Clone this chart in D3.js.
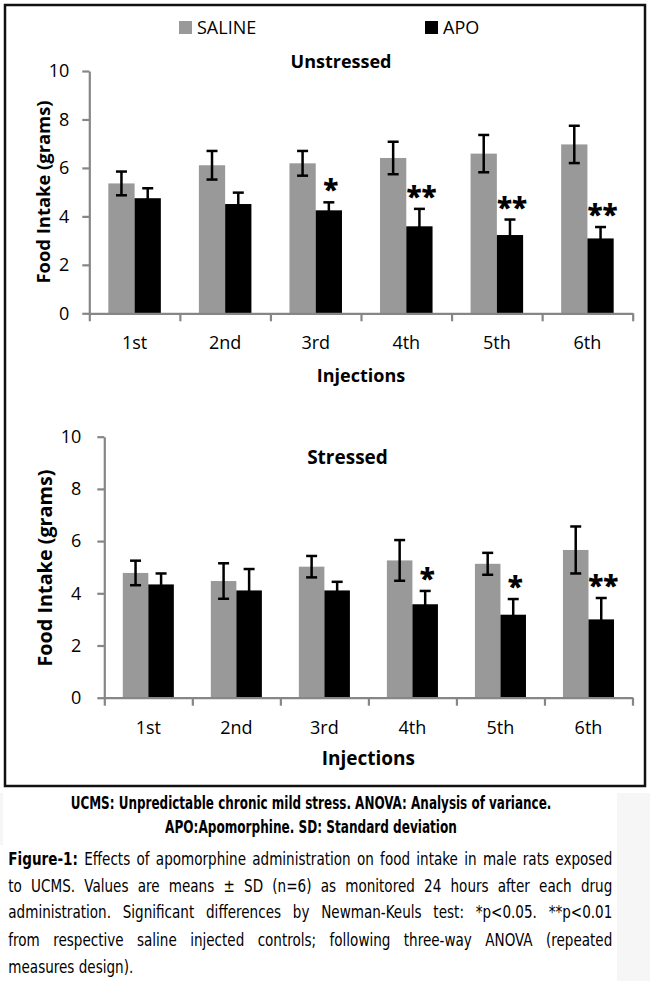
<!DOCTYPE html>
<html>
<head>
<meta charset="utf-8">
<script src="https://cdn.jsdelivr.net/npm/d3@7"></script>
<style>
  body { margin: 0; background: #fff; }
  svg { display: block; }
</style>
</head>
<body>
<svg class="figSVG" width="650" height="981"></svg>
<script>
// data
const injections = ['1st', '2nd', '3rd', '4th', '5th', '6th'];
const treatments = ['SALINE', 'APO'];

const unstressedSaline = [5.36, 6.11, 6.19, 6.41, 6.59, 6.97];
const unstressedSalineSD = [0.49, 0.59, 0.51, 0.67, 0.77, 0.77];
const unstressedApo = [4.75, 4.51, 4.25, 3.59, 3.23, 3.09];
const unstressedApoSD = [0.41, 0.47, 0.33, 0.72, 0.64, 0.47];
const unstressedStars = ['', '', '*', '**', '**', '**'];

const stressedSaline = [4.78, 4.47, 5.02, 5.26, 5.13, 5.66];
const stressedSalineSD = [0.47, 0.68, 0.41, 0.78, 0.42, 0.90];
const stressedApo = [4.34, 4.11, 4.11, 3.58, 3.18, 3.00];
const stressedApoSD = [0.42, 0.82, 0.33, 0.51, 0.60, 0.82];
const stressedStars = ['', '', '', '*', '*', '**'];

const yTicks = [0, 2, 4, 6, 8, 10];

const footLines = [
  'UCMS: Unpredictable chronic mild stress. ANOVA: Analysis of variance.',
  'APO:Apomorphine. SD: Standard deviation'
];
const captionHead = 'Figure-1:';
const captionLines = [
  ' Effects of apomorphine administration on food intake in male rats exposed',
  'to UCMS. Values are means \u00B1 SD (n=6) as monitored 24 hours after each drug',
  'administration. Significant differences by Newman-Keuls test: *p<0.05. **p<0.01',
  'from respective saline injected controls; following three-way ANOVA (repeated',
  'measures design).'
];

const colScale = d3.scaleOrdinal().domain(treatments).range(['#999999', '#000000']);
const axisCol = '#868686';
const chartFont = "'Open Sans', 'Noto Sans', sans-serif";
const capFont = "'Liberation Sans Narrow', 'DejaVu Sans Condensed', 'Open Sans', sans-serif";

const svg = d3.select('svg.figSVG');

// light strips at the page edge beside the caption
svg.append('rect').attr('x', 617).attr('y', 793).attr('width', 33).attr('height', 188).attr('fill', '#f6f6f6');
svg.append('rect').attr('x', 0).attr('y', 793).attr('width', 3).attr('height', 52).attr('fill', '#f6f6f6');

// outer frame round both charts
svg.append('rect')
  .attr('x', 5).attr('y', 5).attr('width', 640).attr('height', 781)
  .attr('fill', 'none').attr('stroke', '#111').attr('stroke-width', 2.5);

// legend
const legendItems = [
  {key: 'SALINE', x: 179},
  {key: 'APO', x: 425}
];
const legGrp = svg.append('g').attr('class', 'legendGrp');
legGrp.selectAll('rect')
  .data(legendItems).enter().append('rect')
  .attr('x', d => d.x).attr('y', 21).attr('width', 13).attr('height', 13)
  .attr('fill', d => colScale(d.key));
legGrp.selectAll('text')
  .data(legendItems).enter().append('text')
  .attr('x', d => d.x + 18).attr('y', 34)
  .text(d => d.key)
  .style('font-family', chartFont).style('font-size', '18px').style('fill', '#000');

function drawPanel(p) {
  const g = svg.append('g').attr('class', 'panel');

  const y = d3.scaleLinear().domain([0, 10]).range([p.bottom, p.top]);
  const xBand = d3.scaleBand().domain(injections).range([p.left, p.right]);
  const xEdge = d3.scaleLinear().domain([0, injections.length]).range([p.left, p.right]);
  const barW = xBand.bandwidth() * 0.29;

  const rows = injections.map((inj, i) => ({
    inj: inj,
    stars: p.stars[i],
    bars: [
      {key: 'SALINE', mean: p.saline[i], sd: p.salineSD[i]},
      {key: 'APO', mean: p.apo[i], sd: p.apoSD[i]}
    ]
  }));

  const catGrps = g.selectAll('g.cat')
    .data(rows).enter().append('g')
    .attr('class', 'cat');

  catGrps.each(function(d) {
    const c = xBand(d.inj) + xBand.bandwidth() / 2;
    const xSub = d3.scaleBand().domain(treatments).range([c - barW, c + barW]);
    const cg = d3.select(this);

    cg.selectAll('rect')
      .data(d.bars).enter().append('rect')
      .attr('x', b => xSub(b.key))
      .attr('y', b => y(b.mean))
      .attr('width', xSub.bandwidth())
      .attr('height', b => y(0) - y(b.mean))
      .attr('fill', b => colScale(b.key));

    const eb = cg.selectAll('g.err')
      .data(d.bars).enter().append('g').attr('class', 'err')
      .attr('stroke', '#000').attr('stroke-width', 2.5);
    eb.append('line')
      .attr('x1', b => xSub(b.key) + xSub.bandwidth() / 2)
      .attr('x2', b => xSub(b.key) + xSub.bandwidth() / 2)
      .attr('y1', b => y(b.mean - b.sd))
      .attr('y2', b => y(b.mean + b.sd));
    [1, -1].forEach(sgn => {
      eb.append('line')
        .attr('x1', b => xSub(b.key) + xSub.bandwidth() / 2 - 5.5)
        .attr('x2', b => xSub(b.key) + xSub.bandwidth() / 2 + 5.5)
        .attr('y1', b => y(b.mean + sgn * b.sd))
        .attr('y2', b => y(b.mean + sgn * b.sd));
    });

    if (d.stars) {
      const apo = d.bars[1];
      cg.append('text')
        .attr('x', xSub('APO') + xSub.bandwidth() / 2 + 2)
        .attr('y', y(apo.mean + apo.sd) - 2)
        .attr('text-anchor', 'middle')
        .text(d.stars)
        .style('font-family', chartFont).style('font-weight', 800)
        .style('font-size', '28px').style('fill', '#000');
    }
  });

  // y axis
  const yAxis = g.append('g')
    .attr('transform', `translate(${p.left},0)`)
    .call(d3.axisLeft(y).tickValues(yTicks).tickSize(7).tickSizeOuter(0).tickPadding(p.yPad));
  // x axis: ticks on category edges, labels on centres
  const xAxis = g.append('g')
    .attr('transform', `translate(0,${p.bottom})`)
    .call(d3.axisBottom(xEdge).tickValues(d3.range(injections.length + 1)).tickSize(8).tickSizeOuter(0).tickFormat(''));
  const xLab = g.append('g')
    .attr('transform', `translate(0,${p.bottom})`)
    .call(d3.axisBottom(xBand).tickSize(0).tickPadding(p.xPad));
  xLab.select('.domain').remove();

  [yAxis, xAxis].forEach(a => {
    a.selectAll('path, line').attr('stroke', axisCol).attr('stroke-width', 2.2);
  });
  [yAxis, xLab].forEach(a => {
    a.selectAll('text')
      .style('font-family', chartFont).style('font-size', '18px').attr('fill', '#000');
  });

  // titles
  g.append('text')
    .attr('x', p.titleX).attr('y', p.titleY)
    .attr('text-anchor', 'middle')
    .text(p.title)
    .style('font-family', chartFont).style('font-weight', 700).style('font-size', `${p.fs}px`);

  g.append('text')
    .attr('x', (p.left + p.right) / 2).attr('y', p.xTitleY)
    .attr('text-anchor', 'middle')
    .text('Injections')
    .style('font-family', chartFont).style('font-weight', 700).style('font-size', `${p.fs}px`);

  g.append('text')
    .attr('transform', `translate(${p.yTitleX},${p.yTitleY}) rotate(-90)`)
    .attr('text-anchor', 'middle')
    .attr('textLength', p.yTitleLen).attr('lengthAdjust', 'spacingAndGlyphs')
    .text('Food Intake (grams)')
    .style('font-family', chartFont).style('font-weight', 700).style('font-size', `${p.fs}px`);
}

drawPanel({
  left: 89.3, right: 632.7, top: 71, bottom: 313.3,
  saline: unstressedSaline, salineSD: unstressedSalineSD,
  apo: unstressedApo, apoSD: unstressedApoSD, stars: unstressedStars,
  title: 'Unstressed', titleX: 341, titleY: 68,
  xTitleY: 382, yTitleX: 50, yTitleY: 192, yTitleLen: 183,
  yPad: 13, xPad: 23, fs: 18
});

drawPanel({
  left: 104.3, right: 632.5, top: 436.7, bottom: 697.7,
  saline: stressedSaline, salineSD: stressedSalineSD,
  apo: stressedApo, apoSD: stressedApoSD, stars: stressedStars,
  title: 'Stressed', titleX: 347.5, titleY: 464,
  xTitleY: 765, yTitleX: 52, yTitleY: 568, yTitleLen: 197,
  yPad: 16, xPad: 24, fs: 19
});

// footnote lines, bold and centred, squeezed to their measured width
const footSpecs = [
  {y: 808.5, w: 481},
  {y: 832.5, w: 292}
];
svg.append('g').attr('class', 'foot').selectAll('g')
  .data(footLines).enter().append('g')
  .each(function(d, i) {
    const fg = d3.select(this);
    const t = fg.append('text').attr('x', 0).attr('y', 0)
      .attr('text-anchor', 'middle')
      .text(d)
      .style('font-family', capFont).style('font-weight', 700).style('font-size', '18.5px');
    const w = t.node().getComputedTextLength();
    fg.attr('transform', `translate(311,${footSpecs[i].y}) scale(${footSpecs[i].w / w},1)`);
  });

// caption: condensed, justified lines
const capX = 8.3, capW = 604;
const capYs = [865, 891.5, 918, 946, 972.5];
const lastTarget = 125;

const capGrp = svg.append('g').attr('class', 'caption');
const capTexts = captionLines.map((line, i) => {
  const lg = capGrp.append('g');
  const t = lg.append('text').attr('x', 0).attr('y', 0)
    .style('font-family', capFont).style('font-size', '18.5px').style('fill', '#000');
  if (i === 0) {
    t.append('tspan').style('font-weight', 700).text(captionHead);
  }
  t.append('tspan').text(line);
  return {lg, t, line, i};
});

// horizontal squeeze taken from the last (unjustified) line
const lastW = capTexts[capTexts.length - 1].t.node().getComputedTextLength();
const k = lastTarget / lastW;

capTexts.forEach(({lg, t, line, i}) => {
  lg.attr('transform', `translate(${capX},${capYs[i]}) scale(${k},1)`);
  if (i === capTexts.length - 1) return;
  const w = t.node().getComputedTextLength();
  const full = (i === 0 ? captionHead : '') + line;
  const nSp = (full.match(/ /g) || []).length;
  const ws = (capW / k - w) / nSp;
  t.style('word-spacing', `${ws}px`);
  const w2 = t.node().getComputedTextLength();
  if (Math.abs(w2 - capW / k) > 3) {
    t.style('word-spacing', null)
      .attr('textLength', capW / k).attr('lengthAdjust', 'spacing');
  }
});
</script>
</body>
</html>
